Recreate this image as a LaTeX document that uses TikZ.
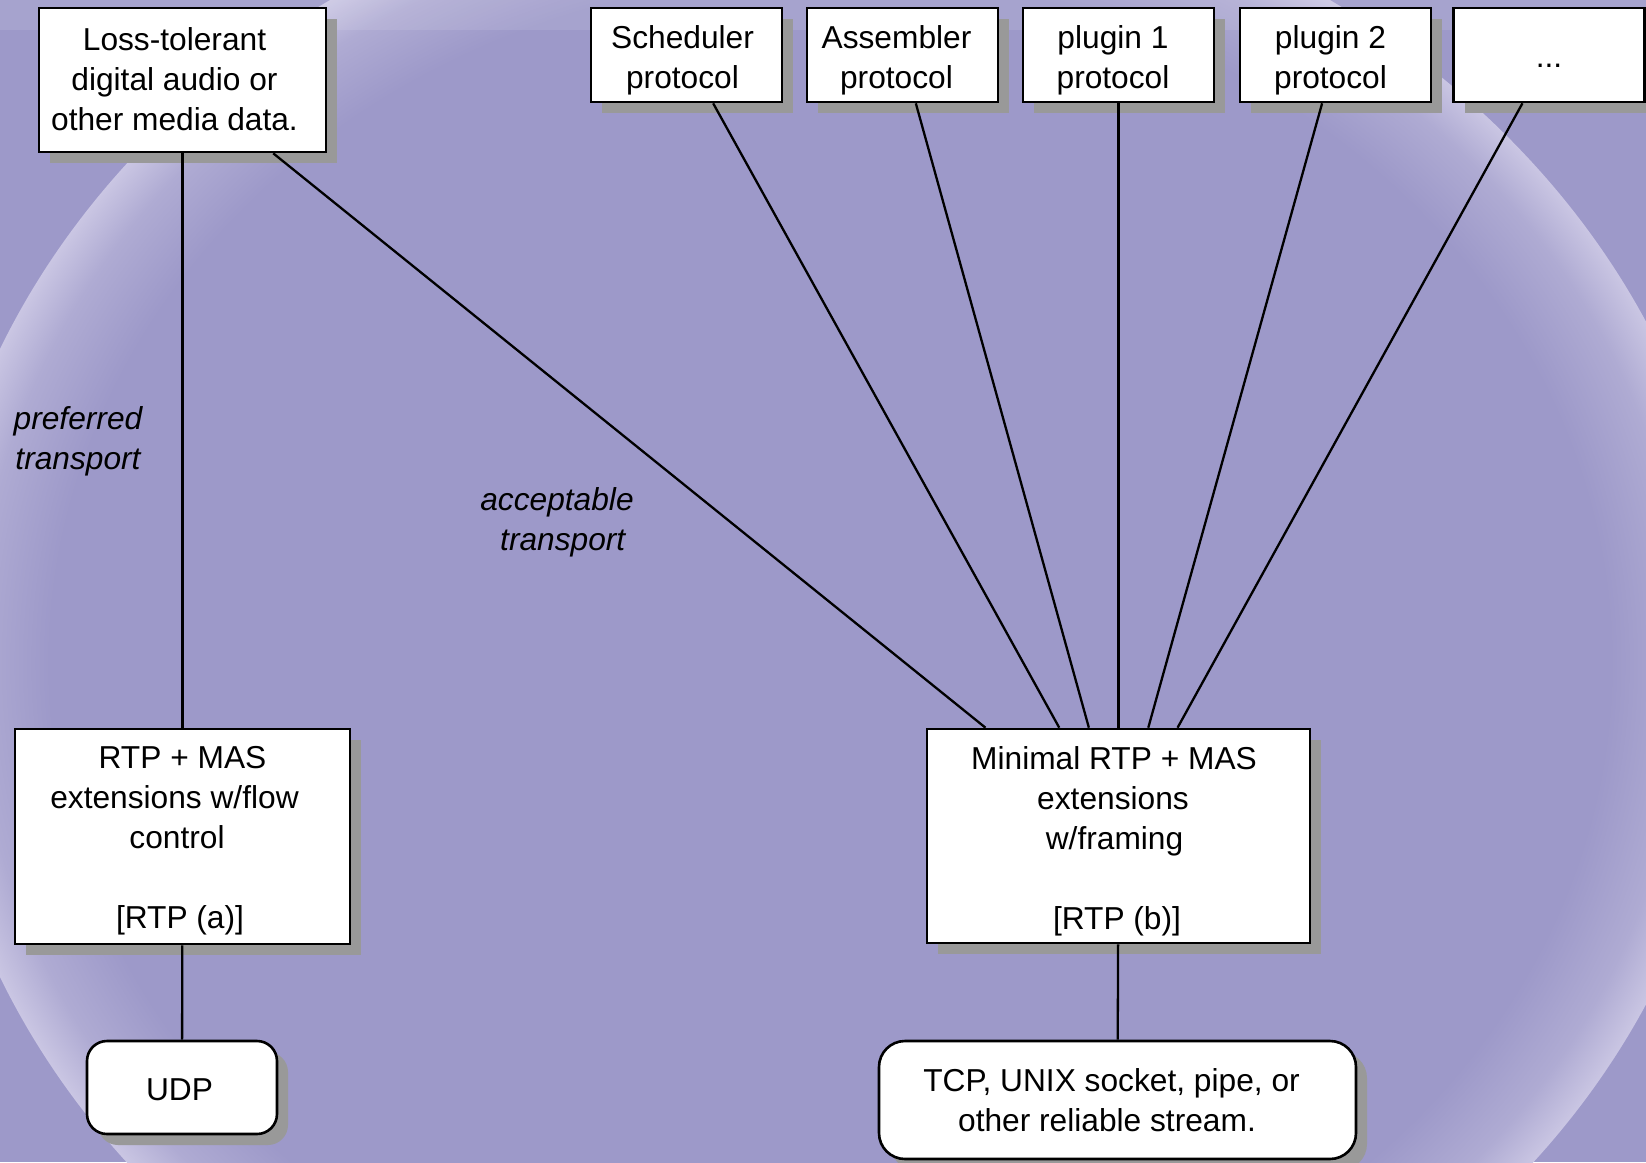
\documentclass[tikz,border=0pt]{standalone}
\usepackage{fontspec}
\setmainfont{Liberation Sans}
\usetikzlibrary{shadows}

\definecolor{bgc}{HTML}{9D99C9}
\definecolor{midc}{HTML}{AFABD3}
\definecolor{rimc}{HTML}{CAC6E3}
\definecolor{shadowc}{HTML}{999999}

% lens-like backdrop: flat in the middle, brightening towards the rim
\pgfdeclareradialshading{rim}{\pgfpoint{0bp}{0bp}}{%
  color(0bp)=(bgc); color(21.6bp)=(bgc); color(23.7bp)=(midc);
  color(25bp)=(rimc); color(50bp)=(rimc)}

% first-line strut: its height sets how low a text block sits in its box
\newcommand\st[1]{\rule{0pt}{#1}}
% trailing blank of a given width (keeps a line off-centre to the left)
\newcommand\pad[1]{\rule{#1}{0pt}}

\begin{document}
\begin{tikzpicture}[x=1pt,y=-1pt,
  every node/.style={font=\fontsize{31.7}{40}\selectfont, align=center,
    inner sep=0pt, execute at end node={\rule[-7pt]{0pt}{7pt}}},
  box/.style={draw=black, line width=2.6pt, fill=white,
    drop shadow={shadow xshift=11pt, shadow yshift=-11pt, fill=shadowc, opacity=1}},
  topbox/.style={box, minimum width=191pt, minimum height=94pt},
  lbl/.style={font=\fontsize{31.7}{40}\selectfont\itshape},
  wire/.style={line width=2.3pt}]

% background
\clip (0,0) rectangle (1646,1162);
\fill[bgc] (0,0) rectangle (1646,1162);
\shade[shading=rim] (830,663) ellipse [x radius=903pt, y radius=796pt];
\fill[white, opacity=0.1] (0,0) rectangle (1646,30);

% data source
\node[box, minimum width=287pt, minimum height=144pt] (media) at (182.5,80)
  {\st{28pt}Loss-tolerant\pad{16pt}\\digital audio or\pad{16pt}\\other media data.\pad{16pt}};

% protocol boxes along the top
\node[topbox] (sched) at (686.5,55) {\st{33.6pt}Scheduler\pad{8pt}\\protocol\pad{8pt}};
\node[topbox] (asm)   at (902.5,55) {\st{33.6pt}Assembler\pad{12pt}\\protocol\pad{12pt}};
\node[topbox] (plug1) at (1118.5,55) {\st{33.6pt}plugin 1\pad{11pt}\\protocol\pad{11pt}};
\node[topbox] (plug2) at (1335.5,55) {\st{33.6pt}plugin 2\pad{10pt}\\protocol\pad{10pt}};
\node[topbox] (more)  at (1549,55) {\st{31.4pt}...};

% RTP variants
\node[box, minimum width=335pt, minimum height=215pt] (rtpa) at (182.5,836.5)
  {\st{31.4pt}RTP + MAS\\extensions w/flow\pad{16pt}\\control\pad{11pt}\\[40pt]{[RTP (a)]}\pad{5pt}};
\node[box, minimum width=383pt, minimum height=214pt] (rtpb) at (1118.5,836)
  {\st{33pt}Minimal RTP + MAS\pad{9pt}\\extensions\pad{11pt}\\w/framing\pad{8pt}\\[40pt]{[RTP (b)]}\pad{3pt}};

% transports
\node[box, rounded corners=20pt, minimum width=190pt, minimum height=93pt] (udp)
  at (182,1087.5) {\st{33.6pt}UDP\pad{5pt}};
\node[box, rounded corners=26pt, minimum width=477pt, minimum height=118pt] (tcp)
  at (1117.5,1100) {\st{30pt}TCP, UNIX socket, pipe, or\pad{12pt}\\other reliable stream.\pad{21pt}};

% connectors
\draw[wire] (media) -- (rtpa);
\draw[wire] (media) -- (rtpb);
\draw[wire] (sched) -- (rtpb);
\draw[wire] (asm) -- (rtpb);
\draw[wire] (plug1) -- (rtpb);
\draw[wire] (plug2) -- (rtpb);
\draw[wire] (more) -- (rtpb);
\draw[wire] (rtpa) -- (udp);
\draw[wire] (rtpb) -- (tcp);

% edge labels
\node[lbl] (pref) at (78,438) {\st{29pt}preferred\\transport};
\node[lbl] (accept) at (557,519.4) {\st{29pt}acceptable\\\pad{11.5pt}transport};
\end{tikzpicture}
\end{document}
